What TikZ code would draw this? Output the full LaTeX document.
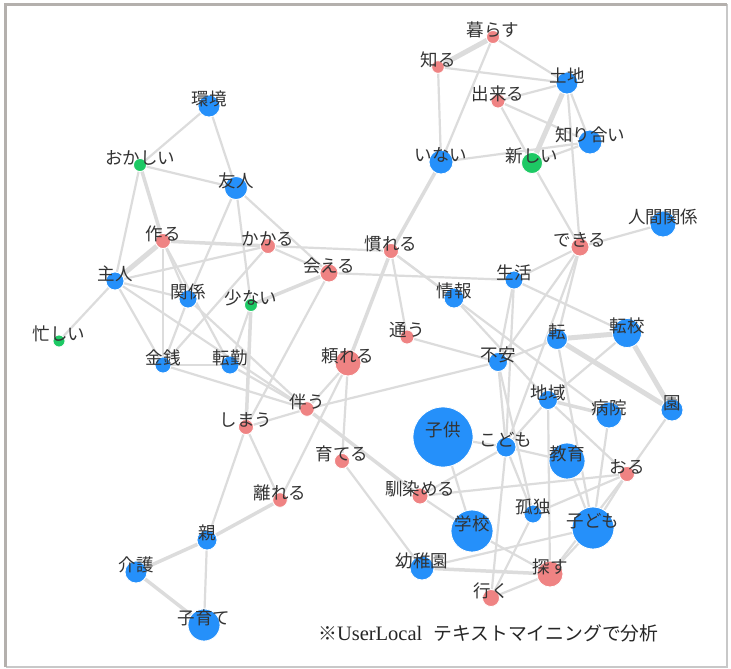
\documentclass[tikz,border=0pt]{standalone}
\usepackage{fontspec}
\newfontfamily\jpfont{Noto Sans CJK JP}
\newfontfamily\latserif{Liberation Serif}
\pgfdeclarelayer{bg}
\pgfdeclarelayer{fg}
\pgfsetlayers{bg,main,fg}
\definecolor{nblue}{HTML}{2590FA}
\definecolor{nred}{HTML}{EF8383}
\definecolor{ngreen}{HTML}{1DC964}
\definecolor{edgec}{HTML}{DCDCDC}
\definecolor{txtc}{HTML}{333333}
\definecolor{framec}{HTML}{B4B0AD}
\definecolor{framec2}{HTML}{C8C8C8}
\newcommand\mknode[6]{%
  \node[#5, minimum size=#4pt] (#1) at (#2,#3) {};%
  \begin{pgfonlayer}{fg}\node[lbl] (#1-t) at (#2,#3-7) {#6};\end{pgfonlayer}}
\begin{document}
\begin{tikzpicture}[x=1pt,y=-1pt,
  nodebase/.style={circle, inner sep=0pt, draw=white, line width=0.8pt},
  bn/.style={nodebase, fill=nblue},
  rn/.style={nodebase, fill=nred},
  gn/.style={nodebase, fill=ngreen},
  lbl/.style={inner sep=0pt, text=txtc, font={\jpfont\fontsize{17.5}{18}\selectfont}},
  edge/.style={draw=edgec, line width=2.2pt},
  medge/.style={draw=edgec, line width=3.5pt},
  tedge/.style={draw=edgec, line width=5pt}]
\useasboundingbox (0,0) rectangle (731,669);
\begin{pgfonlayer}{bg}
\fill[white] (0,0) rectangle (731,669);
\end{pgfonlayer}
\draw[framec2, line width=1.2pt] (727,4.5) -- (727,667) -- (5.5,667);
\draw[framec, line width=3pt] (5.5,667) -- (5.5,4.5) -- (727,4.5);
% nodes
\mknode{kankyo}{209}{106}{22}{bn}{環境}
\mknode{okashii}{140}{165}{13}{gn}{おかしい}
\mknode{yujin}{236}{188}{23}{bn}{友人}
\mknode{tsukuru}{163}{241}{15}{rn}{作る}
\mknode{kakaru}{268}{246}{15}{rn}{かかる}
\mknode{aeru}{329}{273}{18}{rn}{会える}
\mknode{shujin}{115}{281}{18}{bn}{主人}
\mknode{kankei}{188}{299}{18}{bn}{関係}
\mknode{sukunai}{251}{305}{13}{gn}{少ない}
\mknode{isogashii}{59}{341}{12}{gn}{忙しい}
\mknode{kurasu}{493}{37}{13}{rn}{暮らす}
\mknode{shiru}{438}{67}{12.6}{rn}{知る}
\mknode{tochi}{567}{83}{22}{bn}{土地}
\mknode{dekiruA}{498}{101}{14}{rn}{出来る}
\mknode{shiriai}{590}{142}{24}{bn}{知り合い}
\mknode{inai}{441}{162}{24}{bn}{いない}
\mknode{atarashii}{532}{163}{21}{gn}{新しい}
\mknode{ningen}{663}{224}{26}{bn}{人間関係}
\mknode{dekiruB}{580}{247}{18}{rn}{できる}
\mknode{nareru}{391}{251}{15}{rn}{慣れる}
\mknode{seikatsu}{514}{280}{18}{bn}{生活}
\mknode{joho}{454}{298}{20}{bn}{情報}
\mknode{kayou}{407}{337}{14}{rn}{通う}
\mknode{ten}{557}{339}{21}{bn}{転}
\mknode{tenko}{627}{333}{29}{bn}{転校}
\mknode{kinsen}{163}{365}{16}{bn}{金銭}
\mknode{tenkin}{230}{365}{18}{bn}{転勤}
\mknode{tayoreru}{348}{363}{26}{rn}{頼れる}
\mknode{tomonau}{307}{409}{14.6}{rn}{伴う}
\mknode{shimau}{246}{427}{15}{rn}{しまう}
\mknode{sodateru}{342}{461}{15}{rn}{育てる}
\mknode{hanareru}{280}{500}{14.6}{rn}{離れる}
\mknode{oya}{207}{540}{20}{bn}{親}
\mknode{kaigo}{136}{572}{22}{bn}{介護}
\mknode{kosodate}{204}{625}{32}{bn}{子育て}
\mknode{fuan}{498}{362}{19}{bn}{不安}
\mknode{chiiki}{548}{400}{19}{bn}{地域}
\mknode{byoin}{609}{415}{26}{bn}{病院}
\mknode{en}{672}{410}{22}{bn}{園}
\mknode{kodomoA}{443}{437}{60}{bn}{子供}
\mknode{kodomoB}{506}{447}{20}{bn}{こども}
\mknode{kyoiku}{567}{461}{36}{bn}{教育}
\mknode{oru}{627}{474}{15}{rn}{おる}
\mknode{najimeru}{420}{496}{16}{rn}{馴染める}
\mknode{kodoku}{533}{514}{18}{bn}{孤独}
\mknode{kodomoC}{593}{528}{42}{bn}{子ども}
\mknode{gakko}{472}{531}{42}{bn}{学校}
\mknode{yochien}{422}{568}{24}{bn}{幼稚園}
\mknode{sagasu}{550}{574}{26}{rn}{探す}
\mknode{iku}{491}{598}{17}{rn}{行く}
% edges
\begin{pgfonlayer}{bg}
\foreach \a/\b in {kurasu/tochi, kurasu/inai, shiru/tochi, shiru/inai, dekiruA/tochi, dekiruA/shiriai,
  dekiruA/atarashii, tochi/shiriai, tochi/dekiruB, inai/shiriai, atarashii/shiriai, atarashii/dekiruB,
  dekiruB/ningen, kankyo/okashii, kankyo/yujin, okashii/yujin, okashii/shujin, yujin/kankei,
  yujin/sukunai, yujin/aeru, kakaru/nareru, tsukuru/kinsen, tsukuru/kankei, tsukuru/tenkin,
  shujin/kakaru, shujin/kankei, shujin/kinsen, shujin/isogashii, shujin/tomonau, kinsen/kakaru,
  kinsen/kankei, kinsen/tenkin, kinsen/tomonau, kankei/tomonau, sukunai/tenkin, kakaru/aeru,
  aeru/shimau, tenkin/tomonau, shimau/tomonau, aeru/seikatsu, nareru/joho, nareru/kayou,
  nareru/byoin, joho/chiiki, kayou/fuan, tomonau/fuan, tayoreru/tomonau, tayoreru/hanareru,
  tayoreru/sodateru, shimau/hanareru, shimau/oya, oya/kosodate, sodateru/yochien,
  seikatsu/dekiruB, seikatsu/tenko, seikatsu/fuan, seikatsu/kodomoB, dekiruB/fuan,
  dekiruB/kodomoB, dekiruB/ten, fuan/ten, fuan/kodomoB, fuan/kodoku, ten/kodomoC,
  tenko/chiiki, chiiki/kodomoB, chiiki/oru, chiiki/sagasu, byoin/kodomoC, en/oru,
  oru/kodomoC, oru/najimeru, oru/kodoku, oru/sagasu, kodomoA/kodomoB, kodomoA/gakko,
  kodomoB/najimeru, kodomoB/kyoiku, kodomoB/kodoku, kodomoB/iku, kyoiku/kodomoC,
  kodoku/iku, kodomoC/yochien, kodomoC/sagasu, gakko/sagasu, najimeru/gakko, sagasu/iku}
  \draw[edge] (\a) -- (\b);
\foreach \a/\b in {okashii/tsukuru, tsukuru/kakaru, sukunai/shimau, chiiki/byoin, inai/nareru,
  sukunai/aeru, tayoreru/nareru, tomonau/najimeru, oya/hanareru, oya/kaigo, kaigo/kosodate,
  yochien/sagasu}
  \draw[medge] (\a) -- (\b);
\foreach \a/\b in {kurasu/shiru, tochi/atarashii, tsukuru/shujin, ten/tenko, ten/en, tenko/en}
  \draw[tedge] (\a) -- (\b);
\end{pgfonlayer}
\node[anchor=west, inner sep=0pt, text=black!85] (note) at (318,633)
  {\jpfont\fontsize{18.8}{20}\selectfont ※\latserif\fontsize{20.5}{20}\selectfont UserLocal\hspace{11pt}\jpfont\fontsize{18.8}{20}\selectfont テキストマイニングで分析};
\end{tikzpicture}
\end{document}
